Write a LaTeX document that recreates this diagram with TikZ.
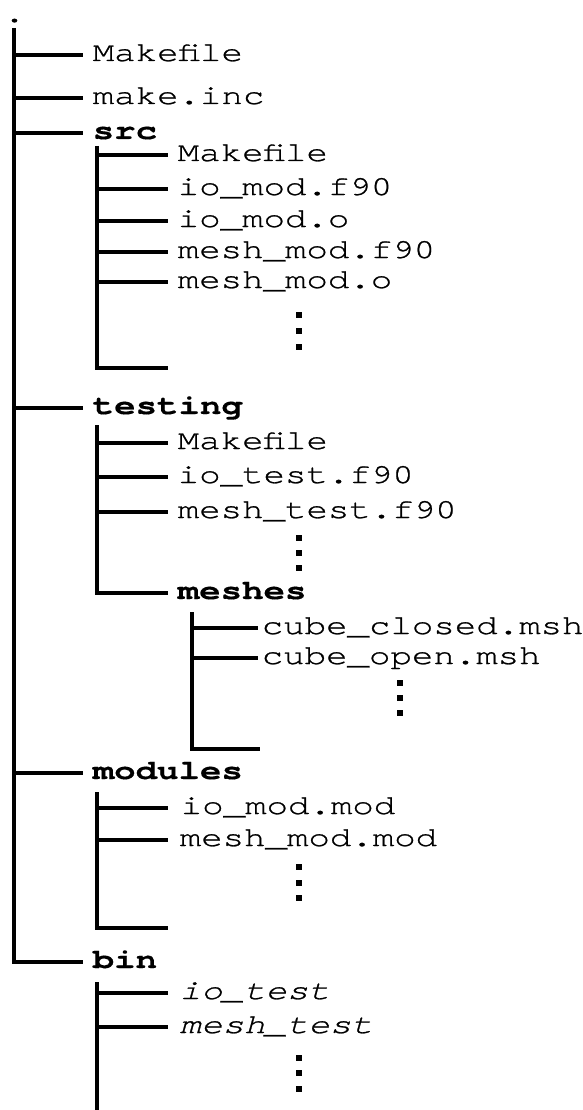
\documentclass[tikz,border=0pt]{standalone}
\usepackage{fontspec}
\newfontfamily\treefont{texgyrecursor}[Extension=.otf, UprightFont=*-regular, BoldFont=*-bold, ItalicFont=*-italic, FakeStretch=1.3,
    UprightFeatures={FakeBold=0.9}, ItalicFeatures={FakeBold=0.9}, BoldFeatures={FakeBold=0.4}]
\usepackage{tikz}

\begin{document}
\begin{tikzpicture}[x=1pt, y=-1pt, line width=3.5pt,
        every node/.style={font=\treefont\fontsize{27.5}{30}\selectfont},
        file/.style={anchor=west, inner xsep=8pt, inner ysep=0pt, text height=15pt, text depth=3pt},
        folder/.style={file, font=\treefont\fontsize{27.5}{30}\selectfont\bfseries},
        prog/.style={file, font=\treefont\fontsize{27.5}{30}\selectfont\itshape},
        dot/.style={fill, rectangle, minimum size=6pt, inner sep=0pt}]
    \useasboundingbox (0,0) rectangle (583,1110);

    % root
    \node[anchor=base, inner sep=0pt] at (14.5,22) (root) {.};
    \coordinate (trunk) at (14,28);
    \node[file] at (83,55)    (mk)      {Makefile};
    \node[file] at (83,98)    (inc)     {make.inc};
    \node[folder] at (83,133) (src)     {src};
    \node[folder] at (83,408) (testing) {testing};
    \node[folder] at (83,773) (modules) {modules};
    \node[folder] at (83,962) (bin)     {bin};

    \draw (trunk) |- (bin.west);
    \foreach \n in {mk,inc,src,testing,modules}
        \draw (trunk |- \n.west) -- (\n.west);

    % src
    \coordinate (srctop) at (97,146);
    \coordinate (srcend) at (168,368);
    \node[file] at (168,155) (srcmk)  {Makefile};
    \node[file] at (168,189) (iomodf) {io\_mod.f90};
    \node[file] at (168,221) (iomodo) {io\_mod.o};
    \node[file] at (168,252) (msmodf) {mesh\_mod.f90};
    \node[file] at (168,282) (msmodo) {mesh\_mod.o};
    \foreach \k [count=\i] in {315,331,347}
        \node[dot] at (299,\k) (srcdot\i) {};

    \draw (srctop) |- (srcend);
    \foreach \n in {srcmk,iomodf,iomodo,msmodf,msmodo}
        \draw (srctop |- \n.west) -- (\n.west);

    % testing
    \coordinate (testtop) at (97,425);
    \node[file] at (168,443) (testmk) {Makefile};
    \node[file] at (168,477) (iotest) {io\_test.f90};
    \node[file] at (168,512) (mstest) {mesh\_test.f90};
    \node[folder] at (168,593) (meshes) {meshes};
    \foreach \k [count=\i] in {538,553,568}
        \node[dot] at (299,\k) (testdot\i) {};

    \draw (testtop) |- (meshes.west);
    \foreach \n in {testmk,iotest,mstest}
        \draw (testtop |- \n.west) -- (\n.west);

    % meshes
    \coordinate (meshtop) at (192,612);
    \coordinate (meshend) at (260,749);
    \node[file, inner xsep=2pt] at (258,628) (cubec) {cube\_closed.msh};
    \node[file, inner xsep=2pt] at (258,658) (cubeo) {cube\_open.msh};
    \foreach \k [count=\i] in {683,698,713}
        \node[dot] at (400,\k) (meshdot\i) {};

    \draw (meshtop) |- (meshend);
    \foreach \n in {cubec,cubeo}
        \draw (meshtop |- \n.west) -- (\n.west);

    % modules
    \coordinate (modtop) at (97,792);
    \coordinate (modend) at (168,928);
    \node[file, inner xsep=11pt] at (168,808) (iomod) {io\_mod.mod};
    \node[file, inner xsep=10pt] at (168,840) (msmod) {mesh\_mod.mod};
    \foreach \k [count=\i] in {867,883,898}
        \node[dot] at (299,\k) (moddot\i) {};

    \draw (modtop) |- (modend);
    \foreach \n in {iomod,msmod}
        \draw (modtop |- \n.west) -- (\n.west);

    % bin
    \coordinate (bintop) at (97,982);
    \coordinate (binend) at (97,1112);
    \node[prog, inner xsep=10pt] at (168,993)  (iorun) {io\_test};
    \node[prog, inner xsep=10pt] at (168,1027) (msrun) {mesh\_test};
    \foreach \k [count=\i] in {1058,1073,1089}
        \node[dot] at (299,\k) (bindot\i) {};

    \draw (bintop) -- (binend);
    \foreach \n in {iorun,msrun}
        \draw (bintop |- \n.west) -- (\n.west);
\end{tikzpicture}
\end{document}
